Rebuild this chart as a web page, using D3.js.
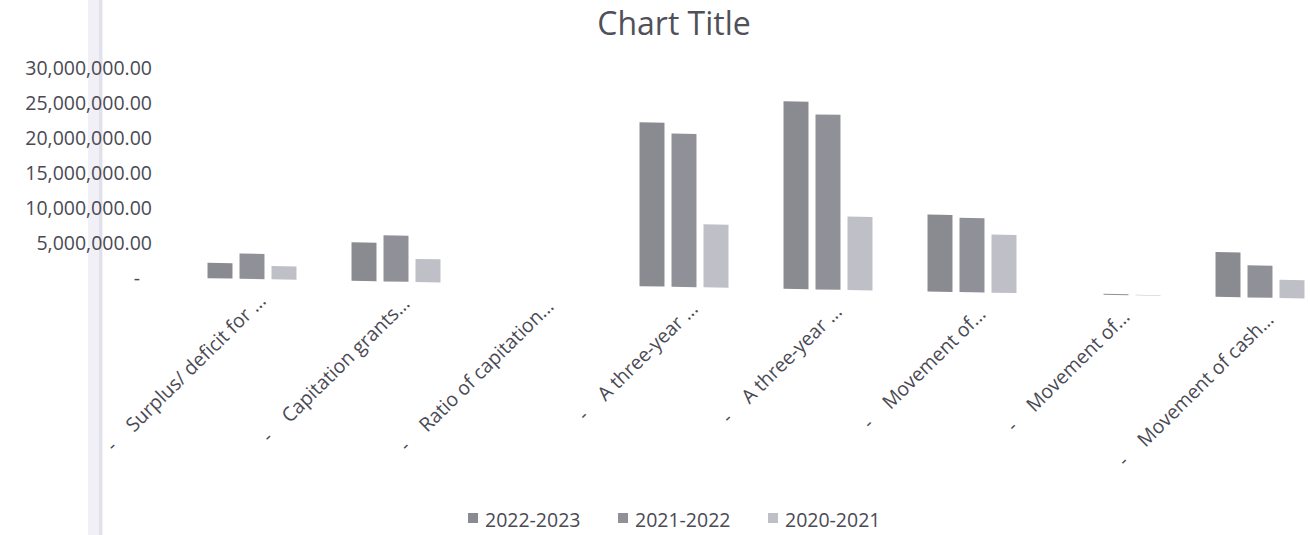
<!DOCTYPE html>
<html>
<head>
<meta charset="utf-8">
<script src="https://cdn.jsdelivr.net/npm/d3@7"></script>
<style>
  html, body { margin: 0; padding: 0; background: #ffffff; }
  svg { display: block; font-family: "Open Sans", "Noto Sans", sans-serif; }
</style>
</head>
<body>
<svg id="chart" width="1310" height="535"></svg>
<script>
// Category labels along the x axis (shown truncated, as in the workbook)
const categories = [
  "Surplus/ deficit for ...",
  "Capitation grants...",
  "Ratio of capitation...",
  "A three-year ...",
  "A three-year ...",
  "Movement of...",
  "Movement of...",
  "Movement of cash..."
];

// Series names
const seriesNames = ["2022-2023", "2021-2022", "2020-2021"];

// Values per series, one per category
const values2022_2023 = [2200000, 5500000, 0, 23400000, 26800000, 11000000, 0, 6400000];
const values2021_2022 = [3600000, 6600000, 0, 21900000, 25000000, 10600000, 150000, 4600000];
const values2020_2021 = [1900000, 3300000, 0, 9000000, 10500000, 8300000, 80000, 2600000];

// Y axis tick values
const yTicks = [0, 5000000, 10000000, 15000000, 20000000, 25000000, 30000000];

const seriesValues = [values2022_2023, values2021_2022, values2020_2021];
const colors = ["#8a8a91", "#909098", "#bfbfc7"];
const textColor = "#4a4a54";

const svg = d3.select("#chart");

// faint vertical fold line across the sheet
svg.append("rect")
  .attr("x", 88).attr("y", 0).attr("width", 15).attr("height", 535)
  .attr("fill", "#dedeea").attr("opacity", 0.45);
svg.append("rect")
  .attr("x", 99).attr("y", 0).attr("width", 3).attr("height", 535)
  .attr("fill", "#cfcfdc").attr("opacity", 0.45);

// Title
svg.append("text")
  .attr("x", 674).attr("y", 35)
  .attr("text-anchor", "middle")
  .attr("font-size", 32)
  .attr("fill", "#50505a")
  .text("Chart Title");

// Scales
const y = d3.scaleLinear().domain([0, 30000000]).range([278, 68]);

const x0 = d3.scaleBand()
  .domain(d3.range(categories.length))
  .range([180, 1332])
  .paddingInner(0).paddingOuter(0);

const x1 = d3.scaleBand()
  .domain(d3.range(seriesNames.length))
  .range([0, x0.bandwidth()])
  .paddingInner(0.22).paddingOuter(0.86);

// Y axis: labels only, accounting-style zero dash
const yAxis = d3.axisLeft(y)
  .tickValues(yTicks)
  .tickSize(0)
  .tickPadding(0)
  .tickFormat(v => v === 0 ? "-" : d3.format(",.2f")(v));

const yG = svg.append("g")
  .attr("transform", "translate(152,0)")
  .call(yAxis);
yG.select(".domain").remove();
yG.selectAll("text")
  .attr("font-size", 19.5)
  .attr("fill", textColor)
  .attr("font-family", "\"Open Sans\", sans-serif")
  .attr("dx", v => v === 0 ? -12 : 0);

// Plot area, with the page's slight tilt
const tilt = Math.atan(0.0185) * 180 / Math.PI;
const plot = svg.append("g")
  .attr("transform", `translate(200,0) skewY(${tilt}) translate(-200,0)`);

const groups = plot.selectAll("g.cat")
  .data(categories.map((c, i) => i))
  .join("g")
  .attr("class", "cat")
  .attr("transform", i => `translate(${x0(i)},0)`);

groups.selectAll("rect")
  .data(i => seriesValues.map((vals, s) => ({ s, v: vals[i] })))
  .join("rect")
  .attr("x", d => x1(d.s))
  .attr("width", x1.bandwidth())
  .attr("y", d => y(d.v))
  .attr("height", d => y(0) - y(d.v))
  .attr("fill", d => colors[d.s]);

// Rotated category labels
const labels = plot.selectAll("text.cat-label")
  .data(categories.map((c, i) => ({ c, i })))
  .join("text")
  .attr("class", "cat-label")
  .attr("text-anchor", "end")
  .attr("font-size", 19.5)
  .attr("fill", textColor)
  .attr("transform", d => {
    const cx = x0(d.i) + x0.bandwidth() / 2 + 15;
    const cy = y(0) + 23;
    return `translate(${cx},${cy}) rotate(-45)`;
  });
labels.append("tspan").text("-");
labels.append("tspan").attr("dx", 22).text(d => d.c);

// Legend
const legend = svg.append("g").attr("transform", "translate(468,0)");
const items = legend.selectAll("g")
  .data(seriesNames.map((n, i) => ({ n, i })))
  .join("g")
  .attr("transform", d => `translate(${d.i * 150},0)`);
items.append("rect")
  .attr("x", 0).attr("y", 513)
  .attr("width", 10).attr("height", 10)
  .attr("fill", d => colors[d.i]);
items.append("text")
  .attr("x", 17).attr("y", 527)
  .attr("font-size", 19.5)
  .attr("fill", textColor)
  .text(d => d.n);
</script>
</body>
</html>
